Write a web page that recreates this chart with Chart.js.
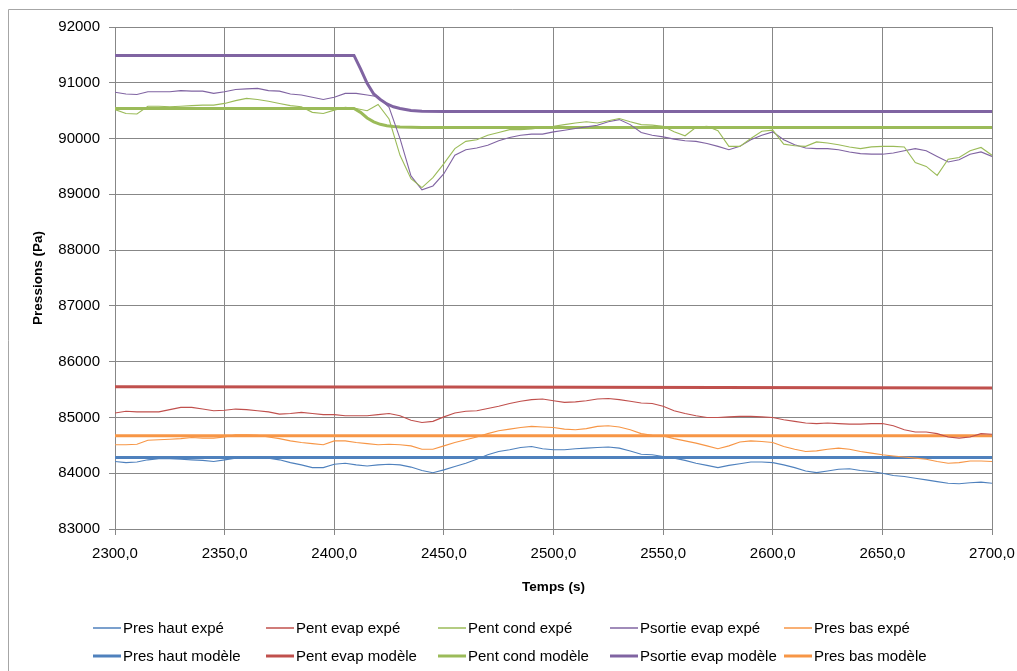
<!DOCTYPE html>
<html>
<head>
<meta charset="utf-8">
<script src="https://cdn.jsdelivr.net/npm/chart.js@4/dist/chart.umd.min.js"></script>
<style>
body { margin: 0; background: #fff; }
</style>
</head>
<body>
<canvas id="pressions" width="1017" height="671"></canvas>
<script>
// temps des mesures (s)
var temps = [2300, 2305, 2310, 2315, 2320, 2325, 2330, 2335, 2340, 2345,
	2350, 2355, 2360, 2365, 2370, 2375, 2380, 2385, 2390, 2395,
	2400, 2405, 2410, 2415, 2420, 2425, 2430, 2435, 2440, 2445,
	2450, 2455, 2460, 2465, 2470, 2475, 2480, 2485, 2490, 2495,
	2500, 2505, 2510, 2515, 2520, 2525, 2530, 2535, 2540, 2545,
	2550, 2555, 2560, 2565, 2570, 2575, 2580, 2585, 2590, 2595,
	2600, 2605, 2610, 2615, 2620, 2625, 2630, 2635, 2640, 2645,
	2650, 2655, 2660, 2665, 2670, 2675, 2680, 2685, 2690, 2695, 2700];

var presHautExpe = [84210, 84190, 84200, 84240, 84260, 84260, 84250, 84240, 84230, 84210,
	84240, 84270, 84290, 84290, 84270, 84240, 84190, 84150, 84100, 84100,
	84160, 84180, 84150, 84130, 84150, 84160, 84150, 84110, 84050, 84010,
	84060, 84120, 84180, 84250, 84330, 84390, 84420, 84460, 84480, 84440,
	84420, 84420, 84440, 84450, 84460, 84470, 84450, 84400, 84340, 84330,
	84300, 84270, 84230, 84180, 84140, 84100, 84140, 84170, 84200, 84200,
	84190, 84150, 84100, 84040, 84010, 84040, 84070, 84080, 84050, 84030,
	84000, 83960, 83940, 83910, 83880, 83850, 83820, 83810, 83830, 83840, 83820];

var pentEvapExpe = [85080, 85110, 85100, 85100, 85100, 85140, 85180, 85180, 85150, 85120,
	85130, 85150, 85140, 85120, 85100, 85060, 85070, 85090, 85070, 85050,
	85050, 85030, 85030, 85030, 85050, 85070, 85030, 84950, 84910, 84930,
	85010, 85080, 85110, 85120, 85160, 85200, 85250, 85290, 85320, 85330,
	85300, 85270, 85280, 85300, 85330, 85340, 85320, 85290, 85260, 85250,
	85200, 85120, 85070, 85030, 85000, 85000, 85010, 85020, 85020, 85010,
	85000, 84960, 84930, 84900, 84890, 84900, 84890, 84880, 84880, 84890,
	84890, 84850, 84780, 84740, 84740, 84710, 84650, 84630, 84650, 84710, 84700];

var pentCondExpe = [90520, 90450, 90440, 90580, 90580, 90570, 90580, 90590, 90600, 90600,
	90630, 90680, 90720, 90700, 90670, 90630, 90590, 90570, 90470, 90450,
	90510, 90560, 90540, 90500, 90610, 90350, 89700, 89280, 89120, 89300,
	89550, 89820, 89950, 89980, 90060, 90110, 90160, 90160, 90170, 90200,
	90220, 90250, 90280, 90300, 90280, 90320, 90360, 90300, 90250, 90240,
	90220, 90120, 90050, 90200, 90220, 90140, 89860, 89860, 90000, 90130,
	90150, 89900, 89870, 89860, 89940, 89920, 89890, 89850, 89820, 89850,
	89860, 89860, 89850, 89570, 89500, 89340, 89630, 89660, 89780, 89840, 89700];

var psortieEvapExpe = [90830, 90800, 90790, 90840, 90840, 90840, 90860, 90850, 90850, 90810,
	90840, 90880, 90890, 90900, 90860, 90850, 90800, 90780, 90740, 90700,
	90740, 90810, 90810, 90780, 90750, 90560, 90000, 89330, 89080, 89150,
	89370, 89700, 89800, 89830, 89880, 89960, 90020, 90060, 90080, 90080,
	90120, 90150, 90180, 90210, 90240, 90300, 90340, 90250, 90110, 90060,
	90030, 89990, 89960, 89950, 89910, 89860, 89800, 89860, 89980, 90060,
	90120, 89980, 89890, 89830, 89820, 89820, 89800, 89760, 89730, 89720,
	89720, 89740, 89780, 89820, 89780, 89680, 89580, 89620, 89720, 89760, 89680];

var presBasExpe = [84510, 84510, 84520, 84590, 84600, 84610, 84620, 84640, 84630, 84630,
	84650, 84690, 84690, 84680, 84650, 84620, 84580, 84550, 84530, 84510,
	84580, 84580, 84550, 84530, 84510, 84520, 84510, 84490, 84430, 84430,
	84490, 84550, 84600, 84650, 84710, 84760, 84790, 84820, 84840, 84830,
	84820, 84790, 84780, 84800, 84840, 84850, 84830, 84780, 84710, 84680,
	84670, 84620, 84580, 84540, 84490, 84440, 84490, 84560, 84580, 84570,
	84550, 84480, 84430, 84390, 84400, 84430, 84450, 84430, 84390, 84360,
	84330, 84310, 84290, 84270, 84250, 84210, 84180, 84190, 84220, 84220, 84210];

// modele : moins de points, il est lisse
var tempsModele = [2300, 2409, 2412, 2415, 2418, 2421, 2424, 2427, 2430, 2435, 2440, 2450, 2700];
var presHautModele = [84280, 84280, 84280, 84280, 84280, 84280, 84280, 84280, 84280, 84280, 84280, 84280, 84280];
var pentEvapModele = [85550, 85548, 85548, 85548, 85547, 85547, 85547, 85547, 85546, 85546, 85546, 85545, 85530];
var pentCondModele = [90540, 90540, 90470, 90370, 90300, 90255, 90230, 90215, 90208, 90202, 90200, 90200, 90200];
var psortieEvapModele = [91490, 91490, 91250, 90990, 90800, 90700, 90620, 90570, 90540, 90505, 90490, 90485, 90485];
var presBasModele = [84670, 84670, 84670, 84670, 84670, 84670, 84670, 84670, 84670, 84670, 84670, 84670, 84670];

var bleu = '#4F81BD', rouge = '#C0504D', vert = '#9BBB59', violet = '#8064A2', orange = '#F79646';

var points = function(xs, ys) {
	return xs.map(function(x, i) { return { x: x, y: ys[i] }; });
};

var serie = function(label, xs, ys, colour, width) {
	return {
		label: label,
		data: points(xs, ys),
		borderColor: colour,
		backgroundColor: colour,
		borderWidth: width,
		pointRadius: 0,
		tension: 0,
		fill: false
	};
};

var police = '"Liberation Sans", Arial, sans-serif';
var legendCols = [93, 266, 438, 610, 784];
var legendRows = [628, 656];

var legendeExcel = {
	id: 'legendeExcel',
	beforeDraw: function(chart) {
		var ctx = chart.ctx;
		ctx.save();
		ctx.strokeStyle = '#a6a6a6';
		ctx.lineWidth = 1;
		ctx.beginPath();
		ctx.moveTo(8.5, 671);
		ctx.lineTo(8.5, 9.5);
		ctx.lineTo(1017, 9.5);
		ctx.stroke();
		ctx.restore();
	},
	afterDraw: function(chart) {
		var ctx = chart.ctx;
		chart.data.datasets.forEach(function(ds, i) {
			var x = legendCols[i % 5];
			var y = legendRows[Math.floor(i / 5)];
			ctx.save();
			ctx.strokeStyle = ds.borderColor;
			ctx.lineWidth = i < 5 ? 1.5 : 3;
			ctx.beginPath();
			ctx.moveTo(x, y);
			ctx.lineTo(x + 28, y);
			ctx.stroke();
			ctx.fillStyle = '#000';
			ctx.font = '15px ' + police;
			ctx.textBaseline = 'middle';
			ctx.fillText(ds.label, x + 30, y + 1);
			ctx.restore();
		});
	}
};

var grille = '#878787';

var config = {
	type: 'line',
	data: {
		datasets: [
			serie('Pres haut expé', temps, presHautExpe, bleu, 1.1),
			serie('Pent evap expé', temps, pentEvapExpe, rouge, 1.1),
			serie('Pent cond expé', temps, pentCondExpe, vert, 1.1),
			serie('Psortie evap expé', temps, psortieEvapExpe, violet, 1.1),
			serie('Pres bas expé', temps, presBasExpe, orange, 1.1),
			serie('Pres haut modèle', tempsModele, presHautModele, bleu, 3),
			serie('Pent evap modèle', tempsModele, pentEvapModele, rouge, 3),
			serie('Pent cond modèle', tempsModele, pentCondModele, vert, 3),
			serie('Psortie evap modèle', tempsModele, psortieEvapModele, violet, 3),
			serie('Pres bas modèle', tempsModele, presBasModele, orange, 3)
		]
	},
	options: {
		responsive: false,
		animation: false,
		layout: { padding: { left: 0, top: 27, right: 25, bottom: 62 } },
		plugins: {
			legend: { display: false },
			tooltip: { enabled: false }
		},
		scales: {
			x: {
				type: 'linear',
				min: 2300,
				max: 2700,
				afterFit: function(s) {
					s.height = 80;
					s.paddingLeft = 0;
					s.paddingRight = 0;
				},
				grid: { color: grille, tickLength: 6, drawTicks: true },
				border: { color: grille },
				ticks: {
					stepSize: 50,
					padding: 10,
					color: '#000',
					font: { family: police, size: 15 },
					callback: function(v) { return v.toFixed(1).replace('.', ','); }
				},
				title: {
					display: true,
					text: 'Temps (s)',
					color: '#000',
					font: { family: police, size: 13.5, weight: 'bold' },
					padding: { bottom: 14 }
				}
			},
			y: {
				min: 83000,
				max: 92000,
				afterFit: function(s) { s.width = 115; },
				grid: { color: grille, tickLength: 6 },
				border: { color: grille },
				ticks: {
					stepSize: 1000,
					padding: 9,
					color: '#000',
					font: { family: police, size: 15 },
					callback: function(v) { return String(v); }
				},
				title: {
					display: true,
					text: 'Pressions (Pa)',
					color: '#000',
					font: { family: police, size: 13.5, weight: 'bold' },
					padding: { top: 30 }
				}
			}
		}
	},
	plugins: [legendeExcel]
};

var ctx = document.getElementById('pressions').getContext('2d');
window.graphePressions = new Chart(ctx, config);
</script>
</body>
</html>
